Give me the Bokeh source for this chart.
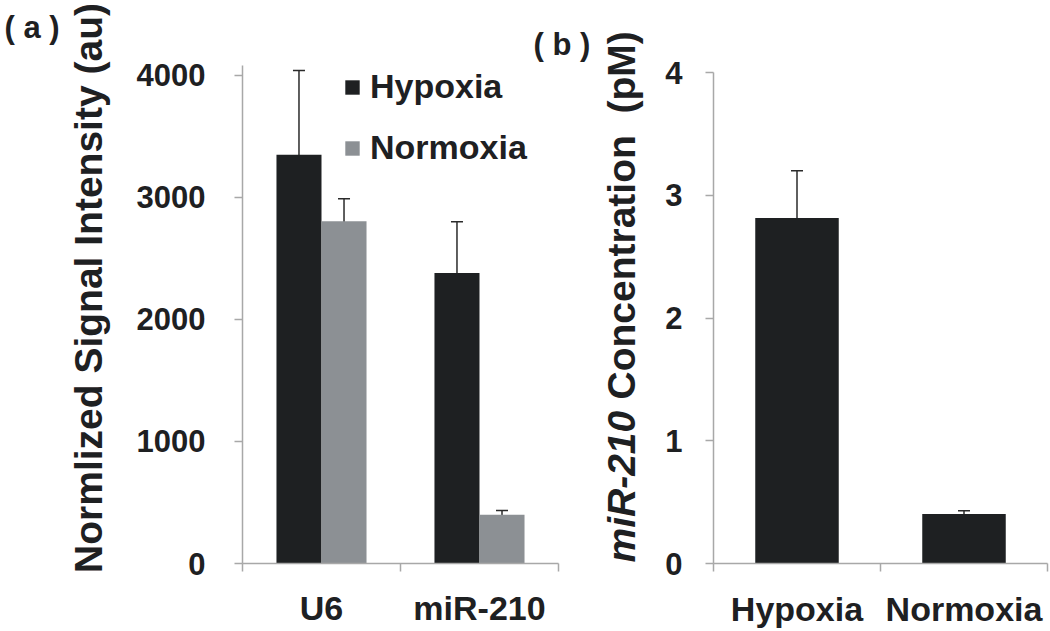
from math import pi

from bokeh.plotting import figure
from bokeh.layouts import row
from bokeh.models import (ColumnDataSource, Range1d, FixedTicker, Whisker, TeeHead,
                          Legend, LegendItem, Label)
from bokeh.embed import file_html
from bokeh.resources import INLINE

# ---------------- data ----------------
genes = ["U6", "miR-210"]
hypoxia_signal = [3350, 2380]
hypoxia_signal_err = [690, 420]
normoxia_signal = [2805, 400]
normoxia_signal_err = [185, 35]
signal_ticks = [0, 1000, 2000, 3000, 4000]

conditions = ["Hypoxia", "Normoxia"]
mir210_conc = [2.815, 0.404]
mir210_conc_err = [0.385, 0.025]
conc_ticks = [0, 1, 2, 3, 4]

# ---------------- style ----------------
FONT = "Liberation Sans"
DARK = "#1e2022"
GRAY = "#8c9094"
AXIS = "#a8a8a8"
TXT = "#1e2022"
ERR = "#2a2a2a"
H = 631
TOP = 12
BOTTOM = 68


def style(p, ticks, ylabel_standoff, xlabels, npos, xstandoff, ybounds):
    p.xgrid.visible = False
    p.ygrid.visible = False
    p.outline_line_color = None
    for ax in (p.xaxis[0], p.yaxis[0]):
        ax.axis_line_color = AXIS
        ax.axis_line_width = 1.5
        ax.major_label_text_font = FONT
        ax.major_label_text_font_style = "bold"
        ax.major_label_text_color = TXT
    ya = p.yaxis[0]
    ya.ticker = FixedTicker(ticks=ticks)
    ya.bounds = ybounds
    ya.major_tick_out = 8
    ya.major_tick_in = 0
    ya.major_tick_line_color = AXIS
    ya.major_tick_line_width = 1.5
    ya.minor_tick_line_color = None
    ya.major_label_text_font_size = "31px"
    ya.major_label_standoff = ylabel_standoff
    # x axis: labels at category centres, ticks at category boundaries
    xa = p.xaxis[0]
    centres = list(range(1, npos + 1))
    bounds = [c - 0.5 for c in centres] + [npos + 0.5]
    xa.ticker = FixedTicker(ticks=centres, minor_ticks=bounds)
    xa.bounds = (0.5, npos + 0.5)
    xa.major_label_overrides = {c: lab for c, lab in zip(centres, xlabels)}
    xa.major_tick_out = 0
    xa.major_tick_in = 0
    xa.major_tick_line_color = None
    xa.minor_tick_out = 8
    xa.minor_tick_in = 0
    xa.minor_tick_line_color = AXIS
    xa.minor_tick_line_width = 1.5
    xa.major_label_text_font_size = "34px"
    xa.major_label_standoff = xstandoff


def tlabel(p, text, x, y, size, style_="bold", align="left", angle=0.0):
    p.add_layout(Label(x=x, y=y, x_units="screen", y_units="screen", text=text,
                       angle=angle, text_align=align, text_baseline="alphabetic",
                       text_font=FONT, text_font_style=style_, text_font_size=size,
                       text_color=TXT))


# ---------------- panel tag strip ----------------
strip = figure(width=60, height=H, x_range=Range1d(0, 1), y_range=Range1d(0, 1),
               x_axis_type=None, y_axis_type=None, output_backend="svg",
               toolbar_location=None, min_border_left=0, min_border_right=0,
               min_border_top=TOP, min_border_bottom=BOTTOM)
strip.outline_line_color = None
strip.grid.visible = False
tlabel(strip, "( a )", 4, 536, "31px")

# ---------------- panel (a) ----------------
n = len(genes)
centres_a = [i + 1 for i in range(n)]
off = 0.1425
bw = 0.285

src_h = ColumnDataSource(dict(
    x=[c - off for c in centres_a], top=hypoxia_signal,
    upper=[v + e for v, e in zip(hypoxia_signal, hypoxia_signal_err)],
    lower=[v - e for v, e in zip(hypoxia_signal, hypoxia_signal_err)]))
src_n = ColumnDataSource(dict(
    x=[c + off for c in centres_a], top=normoxia_signal,
    upper=[v + e for v, e in zip(normoxia_signal, normoxia_signal_err)],
    lower=[v - e for v, e in zip(normoxia_signal, normoxia_signal_err)]))

p1 = figure(width=595, height=H, x_range=Range1d(0.5, 3.114), y_range=Range1d(0, 4516),
            output_backend="svg", toolbar_location=None,
            min_border_left=182, min_border_right=0, min_border_top=TOP,
            min_border_bottom=BOTTOM)
style(p1, signal_ticks, 29, genes, n, 17, (0, 4080))
ya1 = p1.yaxis[0]
ya1.axis_label = "Normlized Signal Intensity (au)"
ya1.axis_label_text_font = FONT
ya1.axis_label_text_font_style = "bold"
ya1.axis_label_text_font_size = "39px"
ya1.axis_label_text_color = TXT
ya1.axis_label_standoff = 24

r_h = p1.vbar(x="x", top="top", width=bw, source=src_h, fill_color=DARK, line_color=None)
r_n = p1.vbar(x="x", top="top", width=bw, source=src_n, fill_color=GRAY, line_color=None)

for src in (src_h, src_n):
    p1.add_layout(Whisker(source=src, base="x", upper="upper", lower="lower",
                          line_color=ERR, line_width=1.5,
                          upper_head=TeeHead(size=12, line_color=ERR, line_width=1.5),
                          lower_head=TeeHead(size=12, line_color=ERR, line_width=1.5)))

legend = Legend(items=[LegendItem(label="Hypoxia", renderers=[r_h]),
                       LegendItem(label="Normoxia", renderers=[r_n])],
                location=(101, 396), orientation="vertical",
                glyph_width=18, glyph_height=18, label_standoff=9, spacing=22,
                padding=0, margin=0, border_line_color=None, background_fill_alpha=0,
                label_text_font=FONT, label_text_font_style="bold",
                label_text_font_size="34px", label_text_color=TXT)
p1.add_layout(legend)

# panel tag (b) and the rotated y title of panel (b) (mixed italic)
tlabel(p1, "( b )", 291, 519, "31px")
tlabel(p1, "miR-210", 379, 1, "39px", "bold italic", angle=pi / 2)
tlabel(p1, "Concentration", 379, 164, "39px", angle=pi / 2)
tlabel(p1, "(pM)", 379, 450, "39px", angle=pi / 2)

# ---------------- panel (b) ----------------
m = len(conditions)
centres_b = [i + 1 for i in range(m)]
src_b = ColumnDataSource(dict(
    x=centres_b, top=mir210_conc,
    upper=[v + e for v, e in zip(mir210_conc, mir210_conc_err)],
    lower=[v - e for v, e in zip(mir210_conc, mir210_conc_err)]))

p2 = figure(width=395, height=H, x_range=Range1d(0.5, m + 0.5), y_range=Range1d(0, 4.489),
            output_backend="svg", toolbar_location=None,
            min_border_left=58, min_border_right=3, min_border_top=TOP,
            min_border_bottom=BOTTOM)
style(p2, conc_ticks, 23, conditions, m, 18, (0, 4))

p2.vbar(x="x", top="top", width=0.5, source=src_b, fill_color=DARK, line_color=None)
p2.add_layout(Whisker(source=src_b, base="x", upper="upper", lower="lower",
                      line_color=ERR, line_width=1.5,
                      upper_head=TeeHead(size=12, line_color=ERR, line_width=1.5),
                      lower_head=TeeHead(size=12, line_color=ERR, line_width=1.5)))

layout = row(strip, p1, p2)
open("out.html", "w").write(file_html(layout, INLINE))
